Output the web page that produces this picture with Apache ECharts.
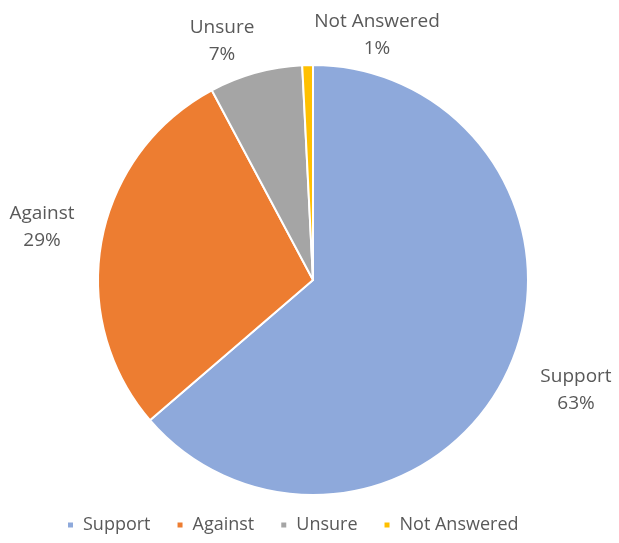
<!DOCTYPE html>
<html>
<head>
<meta charset="utf-8">
<script src="https://cdn.jsdelivr.net/npm/echarts@6/dist/echarts.min.js"></script>
<style>
  html, body { margin: 0; padding: 0; background: #fff; }
  #chart { width: 619px; height: 543px; }
</style>
</head>
<body>
<div id="chart"></div>
<script>
// survey answers — share of responses (pie, clockwise from 12 o'clock)
const categories = ["Support", "Against", "Unsure", "Not Answered"];
const values     = [63.7, 28.5, 7.0, 0.8];
const pctLabels  = ["63%", "29%", "7%", "1%"];
const colors     = ["#8EA9DB", "#ED7D31", "#A5A5A5", "#FFC000"];

// label anchor spots (layout only)
const labelPos = [[576, 390], [42, 227], [222, 41], [377, 35]];

const TEXT = "#595959";
const FONT = "Open Sans";

const chart = echarts.init(document.getElementById("chart"), null, { renderer: "canvas" });

chart.setOption({
  backgroundColor: "#fff",
  animation: false,
  legend: {
    bottom: 4, left: 61,
    icon: "rect", itemWidth: 7, itemHeight: 7, itemGap: 25,
    textStyle: { color: TEXT, fontSize: 18, fontFamily: FONT, padding: [0, 0, 0, 4] },
    data: categories,
  },
  series: [{
    type: "pie",
    center: [313, 280],
    radius: 215,
    startAngle: 90,
    clockwise: true,
    avoidLabelOverlap: false,
    itemStyle: { borderColor: "#fff", borderWidth: 2 },
    label: {
      show: true,
      position: "outside",
      color: TEXT, fontSize: 19, fontFamily: FONT, lineHeight: 27,
      formatter: p => `${p.name}\n${pctLabels[p.dataIndex]}`,
    },
    labelLine: { show: false },
    labelLayout: p => ({
      x: labelPos[p.dataIndex][0], y: labelPos[p.dataIndex][1],
      align: "center", verticalAlign: "middle",
    }),
    emphasis: { disabled: true },
    data: categories.map((c, i) => ({ name: c, value: values[i], itemStyle: { color: colors[i] } })),
  }],
});
</script>
</body>
</html>
